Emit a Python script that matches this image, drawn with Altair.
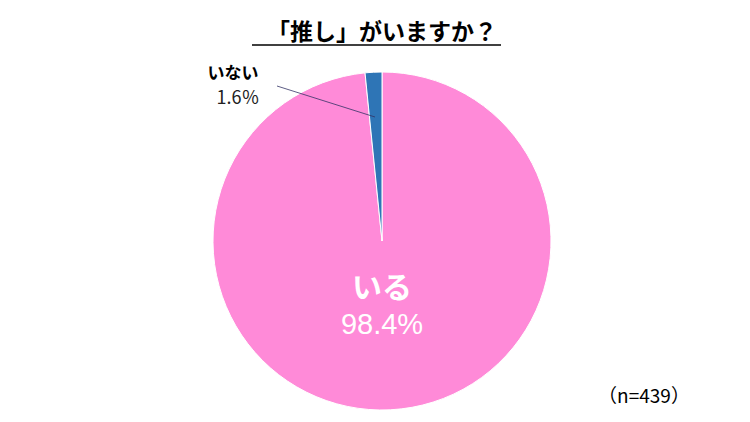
import altair as alt
import pandas as pd

categories = ["いる", "いない"]
values = [98.4, 1.6]
colors = ["#FF8AD8", "#2E75B6"]
title_text = "「推し」がいますか？"
note_text = "（n=439）"

df = pd.DataFrame({"cat": categories, "val": values, "order": [0, 1]})

W, H = 734, 406
cx, cy, r = 374, 233, 169

pie = alt.Chart(df).mark_arc(outerRadius=r, stroke="white", strokeWidth=1).encode(
    theta=alt.Theta("val:Q", stack=True),
    order=alt.Order("order:Q"),
    color=alt.Color("cat:N", scale=alt.Scale(domain=categories, range=colors), legend=None),
    x=alt.value(cx), y=alt.value(cy),
)

base = alt.Chart(pd.DataFrame({"a": [0]}))
JP = "Noto Sans CJK JP"

title = base.mark_text(font=JP, fontSize=23, fontWeight="bold", color="black").encode(
    x=alt.value(cx), y=alt.value(25), text=alt.value(title_text))
underline = base.mark_rule(color="black", strokeWidth=1.5).encode(
    x=alt.value(244), x2=alt.value(493), y=alt.value(37))

lbl1 = base.mark_text(font=JP, fontSize=30, fontWeight="bold", color="white").encode(
    x=alt.value(cx), y=alt.value(281), text=alt.value(categories[0]))
pct1 = base.mark_text(font="Liberation Sans", fontSize=29, color="white").encode(
    x=alt.value(cx), y=alt.value(317), text=alt.value(f"{values[0]}%"))

lbl2 = base.mark_text(font=JP, fontSize=17, fontWeight="bold", color="black").encode(
    x=alt.value(225), y=alt.value(66), text=alt.value(categories[1]))
pct2 = base.mark_text(font=JP, fontSize=18, color="#222222").encode(
    x=alt.value(230), y=alt.value(91), text=alt.value(f"{values[1]}％"))
leader = base.mark_rule(color="#333366", strokeWidth=0.8).encode(
    x=alt.value(269), x2=alt.value(367), y=alt.value(78), y2=alt.value(109))

note = base.mark_text(font=JP, fontSize=19, color="black").encode(
    x=alt.value(636), y=alt.value(389), text=alt.value(note_text))

chart = alt.layer(pie, leader, title, underline, lbl1, pct1, lbl2, pct2, note).properties(
    width=W, height=H, padding=0, background="white",
    autosize=alt.AutoSizeParams(type="none")
).configure_view(strokeWidth=0, stroke="transparent")

chart.save("out.html", embed_options={"renderer": "svg", "actions": False})
